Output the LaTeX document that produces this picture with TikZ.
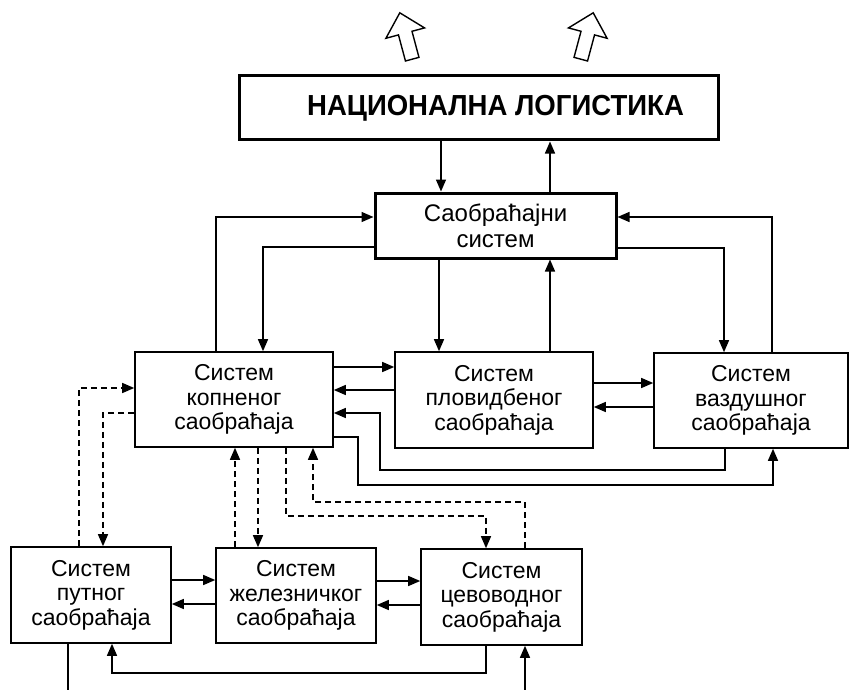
\documentclass[tikz,border=0pt]{standalone}
\usepackage{fontspec}
\setmainfont{Liberation Sans}
\newfontfamily\natfont[FakeStretch=0.95]{Liberation Sans}
\usetikzlibrary{arrows.meta}

\tikzset{
	>={Triangle[length=12pt,width=10pt]},
	sysbox/.style={draw, line width=1.6pt, inner sep=0pt, align=center, font=\fontsize{23}{24.5}\selectfont},
	mainbox/.style={sysbox, line width=3pt},
	link/.style={->, line width=1.4pt},
	dashlink/.style={->, line width=1.4pt, dash pattern=on 6pt off 4pt},
}

\begin{document}
\begin{tikzpicture}[x=1pt, y=-1pt]
	\useasboundingbox (0,0) rectangle (851,690);

	% hollow arrows on top
	\foreach \cx/\ang in {406/15, 587/-15} {
		\draw[line width=1.4pt, shift={(\cx,36)}, rotate=\ang] (0,-24) -- (20,-3) -- (7,-3) -- (7,24) -- (-7,24) -- (-7,-3) -- (-20,-3) -- cycle;
	};

	\node[mainbox, minimum width=479pt, minimum height=64pt, font=\natfont\bfseries\fontsize{29}{30}\selectfont] (nat) at (478.5,108) {\hspace*{34pt}НАЦИОНАЛНА ЛОГИСТИКА};
	\node[mainbox, minimum width=241pt, minimum height=65pt, font=\fontsize{24}{26}\selectfont] (traf) at (495.5,225.5) {Саобраћајни\\систем};

	\node[sysbox, minimum width=198pt, minimum height=95pt] (kop) at (234,399.5) {Систем\\копненог\\саобраћаја};
	\node[sysbox, minimum width=198pt, minimum height=96pt] (plov) at (494,400) {Систем\\пловидбеног\\саобраћаја};
	\node[sysbox, minimum width=194pt, minimum height=95pt] (vazd) at (751,400.5) {Систем\\ваздушног\\саобраћаја};

	\node[sysbox, minimum width=160pt, minimum height=96pt] (put) at (91,595) {Систем\\путног\\саобраћаја};
	\node[sysbox, minimum width=160pt, minimum height=95pt] (zel) at (296,595.5) {Систем\\железничког\\саобраћаја};
	\node[sysbox, minimum width=161pt, minimum height=96pt] (cev) at (501.5,597) {Систем\\цевоводног\\саобраћаја};

	\coordinate (putout) at (68,690);
	\coordinate (cevin) at (525,690);

	% national <-> traffic system
	\draw[link] (nat.south -| 441,0) -- (traf.north -| 441,0);
	\draw[link] (traf.north -| 550,0) -- (nat.south -| 550,0);

	% traffic system <-> subsystems
	\draw[link] (kop.north -| 216,0) |- (traf.west |- 0,217);
	\draw[link] (traf.west |- 0,247) -| (kop.north -| 263,0);
	\draw[link] (traf.south -| 439,0) -- (plov.north -| 439,0);
	\draw[link] (plov.north -| 550,0) -- (traf.south -| 550,0);
	\draw[link] (traf.east |- 0,248) -| (vazd.north -| 724,0);
	\draw[link] (vazd.north -| 772,0) |- (traf.east |- 0,217);

	% between subsystems
	\draw[link] (kop.east |- 0,367) -- (plov.west |- 0,367);
	\draw[link] (plov.west |- 0,390) -- (kop.east |- 0,390);
	\draw[link] (plov.east |- 0,383) -- (vazd.west |- 0,383);
	\draw[link] (vazd.west |- 0,407) -- (plov.east |- 0,407);
	\draw[link] (vazd.south -| 725,0) |- (380,470) |- (kop.east |- 0,413);
	\draw[link] (kop.east |- 0,437) -| (358,485) -| (vazd.south -| 773,0);

	% dashed links
	\draw[dashlink] (put.north -| 79,0) |- (kop.west |- 0,388);
	\draw[dashlink] (kop.west |- 0,413) -| (put.north -| 103,0);
	\draw[dashlink] (zel.north -| 235,0) -- (kop.south -| 235,0);
	\draw[dashlink] (kop.south -| 258,0) -- (zel.north -| 258,0);
	\draw[dashlink] (kop.south -| 286,0) |- (486,516) -- (cev.north -| 486,0);
	\draw[dashlink] (cev.north -| 525,0) |- (313,502) -- (kop.south -| 313,0);

	% bottom row
	\draw[link] (put.east |- 0,580) -- (zel.west |- 0,580);
	\draw[link] (zel.west |- 0,604) -- (put.east |- 0,604);
	\draw[link] (zel.east |- 0,581) -- (cev.west |- 0,581);
	\draw[link] (cev.west |- 0,605) -- (zel.east |- 0,605);
	\draw[link] (cev.south -| 486,0) |- (112,673) -- (put.south -| 112,0);
	\draw[line width=1.4pt] (put.south -| 68,0) -- (putout);
	\draw[link] (cevin) -- (cev.south -| 525,0);
\end{tikzpicture}
\end{document}
